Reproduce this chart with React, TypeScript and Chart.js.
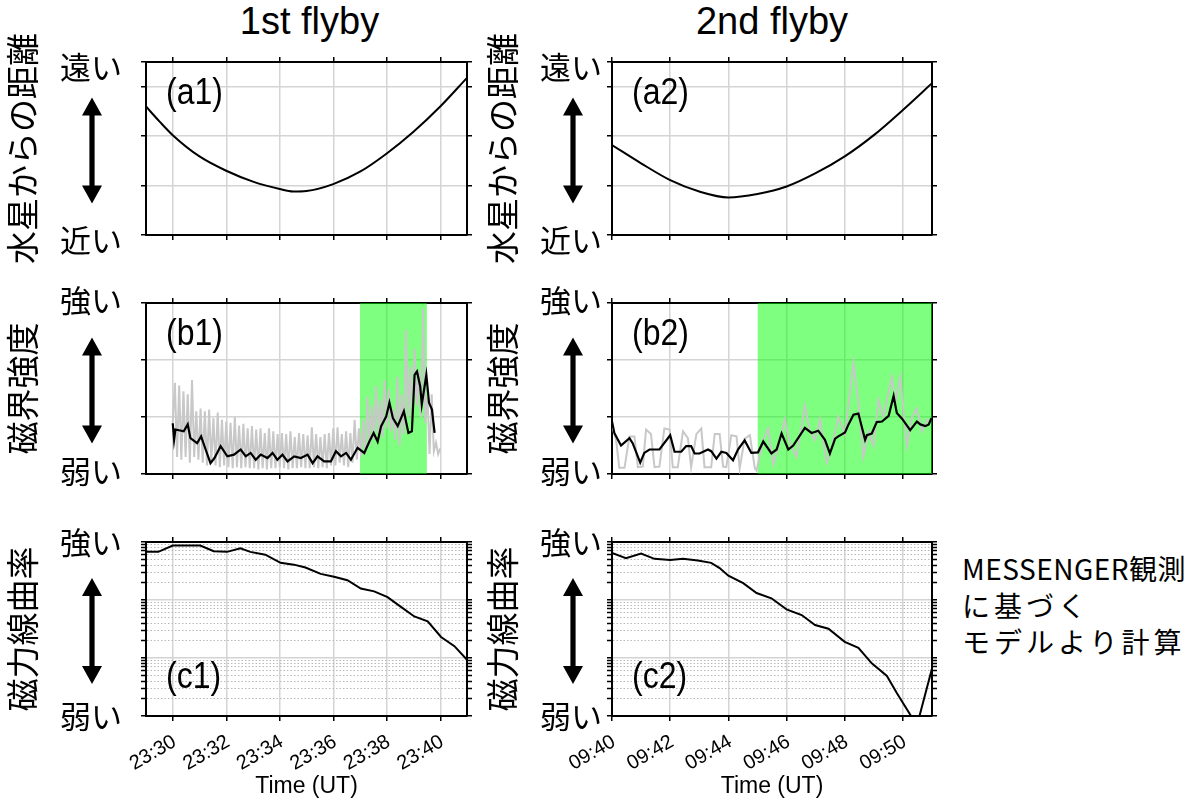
import React, { useEffect, useRef } from 'react';
import { Chart, registerables } from 'chart.js';

Chart.register(...registerables);

// ---------------- data ----------------
const flybyTitles = ['1st flyby', '2nd flyby'];
const flybyHours = ['23', '09'];
const xRange1 = [29, 41];
const xRange2 = [40, 51];
const xTicks1 = [30, 32, 34, 36, 38, 40];
const xTicks2 = [40, 42, 44, 46, 48, 50];
const xAxisTitle = 'Time (UT)';

const yTitles = ['水星からの距離', '磁界強度', '磁力線曲率'];
const distanceEndLabels = ['近い', '遠い'];
const strengthEndLabels = ['弱い', '強い'];
const curvatureEndLabels = ['弱い', '強い'];
const distanceTicks = [0, 1, 2, 3, 3.5];
const strengthTicks = [0, 1, 2, 3];
const curvatureTicks = [
  1, 2, 3, 4, 5, 6, 7, 8, 9,
  10, 20, 30, 40, 50, 60, 70, 80, 90,
  100, 200, 300, 400, 500, 600, 700, 800, 900, 1000,
];
const panelLabels = [
  ['(a1)', '(b1)', '(c1)'],
  ['(a2)', '(b2)', '(c2)'],
];
const noteLines = ['MESSENGER観測', 'に基づく', 'モデルより計算'];

// (a) distance from Mercury
const a1Minutes = [29, 29.5, 30, 31, 32, 33, 34, 34.5, 35, 36, 37, 38, 39, 40, 41];
const a1Distance = [2.6, 2.3, 2.02, 1.59, 1.3, 1.08, 0.93, 0.88, 0.89, 1.03, 1.28, 1.65, 2.09, 2.6, 3.18];
const a2Minutes = [40, 41, 42, 43, 44, 45, 46, 47, 48, 49, 50, 51];
const a2Distance = [1.82, 1.45, 1.11, 0.88, 0.76, 0.83, 0.98, 1.25, 1.59, 2.02, 2.53, 3.07];

// (b) magnetic field strength
const b1BlackMinutes = [
  30.0, 30.05, 30.1, 30.41, 30.56, 30.66, 30.91, 31.06, 31.23, 31.41, 31.56, 31.79,
  32.04, 32.29, 32.54, 32.73, 32.91, 33.1, 33.29, 33.54, 33.73, 33.91, 34.1, 34.29,
  34.54, 34.79, 35.04, 35.23, 35.41, 35.66, 35.91, 36.1, 36.29, 36.48, 36.66, 36.91,
  37.16, 37.35, 37.51, 37.66, 37.79, 37.98, 38.1, 38.23, 38.41, 38.64, 38.81, 38.94,
  39.04, 39.13, 39.25, 39.31, 39.48, 39.58, 39.69, 39.74, 39.79,
];
const b1BlackValues = [
  0.89, 0.6, 0.78, 0.75, 0.87, 0.63, 0.54, 0.66, 0.43, 0.19, 0.28, 0.49,
  0.31, 0.34, 0.43, 0.31, 0.37, 0.25, 0.34, 0.28, 0.37, 0.25, 0.34, 0.22,
  0.31, 0.28, 0.34, 0.19, 0.31, 0.22, 0.22, 0.4, 0.31, 0.37, 0.25, 0.46,
  0.37, 0.57, 0.72, 0.57, 0.84, 1.01, 1.25, 0.98, 0.84, 1.1, 0.72, 0.75,
  1.74, 1.8, 1.54, 1.22, 1.74, 1.25, 1.13, 0.92, 0.72,
];
const b1GrayStart = 30.0;
const b1GrayStep = 0.08;
const b1GrayValues = [
  0.9, 1.6, 0.3, 1.55, 0.25, 1.45, 0.3, 1.4, 0.2, 1.65, 0.3, 1.1, 0.25,
  1.15, 0.2, 1.1, 0.15, 1.13, 0.2, 0.98, 0.15, 1.08, 0.12, 0.95, 0.15, 0.92,
  0.12, 0.9, 0.1, 1.0, 0.12, 0.85, 0.1, 0.88, 0.12, 0.8, 0.1, 0.84,
  0.1, 0.78, 0.08, 0.8, 0.1, 0.72, 0.08, 0.8, 0.1, 0.75, 0.1, 0.7, 0.12,
  0.72, 0.1, 0.7, 0.08, 0.75, 0.1, 0.65, 0.1, 0.72, 0.12, 0.7, 0.1,
  0.68, 0.1, 0.82, 0.12, 0.7, 0.1, 0.65, 0.12, 0.7, 0.1, 0.72, 0.15, 0.8,
  0.15, 0.82, 0.2, 0.7, 0.15, 0.75, 0.12, 0.72, 0.2, 0.95, 0.25, 0.8,
  0.3, 0.95, 0.35, 1.36, 0.5, 1.2, 0.6, 1.55, 0.7, 1.3, 0.65, 1.65, 0.8,
  1.48, 0.75, 1.13, 0.6, 1.71, 0.5, 1.4, 0.7, 2.53, 1.0, 1.89, 0.9,
  2.2, 1.2, 1.8, 1.0, 2.9, 0.9, 1.36, 0.35, 1.4, 0.4, 0.55, 0.35, 0.45,
];
const b1GreenSpan = [37.0, 39.5];

const b2BlackMinutes = [
  40.0, 40.08, 40.31, 40.6, 40.71, 40.97, 41.11, 41.29, 41.63, 42.0, 42.15, 42.38,
  42.55, 42.72, 42.84, 43.01, 43.3, 43.41, 43.59, 43.76, 43.93, 44.16, 44.33, 44.56,
  44.79, 45.02, 45.2, 45.48, 45.66, 45.83, 46.06, 46.23, 46.63, 46.86, 47.09, 47.32,
  47.49, 47.67, 47.78, 48.01, 48.13, 48.3, 48.47, 48.7, 48.76, 48.93, 49.1, 49.28,
  49.51, 49.68, 49.79, 49.97, 50.25, 50.48, 50.6, 50.77, 50.89, 50.98,
];
const b2BlackValues = [
  0.92, 0.72, 0.5, 0.63, 0.54, 0.2, 0.37, 0.43, 0.43, 0.68, 0.39, 0.39,
  0.49, 0.49, 0.36, 0.36, 0.43, 0.4, 0.27, 0.39, 0.37, 0.24, 0.43, 0.59,
  0.37, 0.38, 0.57, 0.36, 0.43, 0.71, 0.43, 0.5, 0.81, 0.72, 0.76, 0.6,
  0.36, 0.62, 0.66, 0.73, 0.87, 1.04, 1.06, 0.6, 0.68, 0.71, 0.91, 0.92,
  1.02, 1.37, 1.07, 0.97, 0.77, 0.92, 0.87, 0.84, 0.87, 0.98,
];
const b2GrayMinutes = [
  40.0, 40.14, 40.25, 40.43, 40.6, 40.77, 40.89, 41.06, 41.17, 41.34, 41.46, 41.63,
  41.8, 41.98, 42.09, 42.26, 42.44, 42.61, 42.72, 42.9, 43.07, 43.18, 43.41, 43.53,
  43.7, 43.82, 43.93, 44.1, 44.28, 44.39, 44.56, 44.74, 44.91, 44.97, 45.2, 45.37,
  45.54, 45.71, 45.94, 46.11, 46.34, 46.63, 46.8, 46.98, 47.15, 47.38, 47.55, 47.78,
  48.01, 48.3, 48.47, 48.64, 48.82, 48.99, 49.16, 49.33, 49.62, 49.74, 49.91, 50.14,
  50.31, 50.48, 50.66, 50.83, 50.94,
];
const b2GrayValues = [
  0.84, 0.6, 0.11, 0.11, 0.66, 0.66, 0.12, 0.13, 0.78, 0.7, 0.12, 0.13,
  0.8, 0.78, 0.12, 0.12, 0.75, 0.63, 0.12, 0.7, 0.8, 0.12, 0.12, 0.7,
  0.7, 0.13, 0.12, 0.68, 0.66, 0.1, 0.62, 0.68, 0.1, 0.06, 0.6, 0.8,
  0.17, 0.45, 0.96, 0.55, 0.3, 1.2, 0.75, 0.6, 0.96, 0.2, 0.45, 1.0,
  0.7, 1.95, 1.25, 0.3, 0.75, 0.5, 1.3, 1.0, 1.7, 1.25, 1.7, 0.5,
  1.0, 1.15, 0.75, 0.95, 0.9,
];
const b2GreenSpan = [45.0, 51.0];

// (c) field-line curvature (log scale)
const c1Minutes = [
  29, 29.46, 30, 31.03, 31.53, 32.03, 32.53, 32.9, 33.46, 34.03, 34.53, 34.96,
  35.53, 36.03, 36.53, 37.03, 37.53, 38.03, 38.53, 39.03, 39.53, 40.03, 40.53, 41,
];
const c1Curvature = [
  676, 676, 871, 871, 692, 676, 776, 676, 603, 437, 407, 363,
  282, 251, 219, 158, 141, 112, 76, 52, 43, 23, 16, 9.3,
];
const c2Minutes = [
  40, 40.48, 41, 41.46, 42, 42.44, 42.95, 43.41, 43.7, 44, 44.51, 44.97,
  45.48, 46, 46.52, 46.98, 47.44, 48, 48.47, 48.93, 49.45, 49.79, 50.28, 50.57, 51,
];
const c2Curvature = [
  646, 525, 631, 513, 490, 513, 479, 437, 355, 263, 195, 132,
  107, 69, 55, 37, 32, 19, 15, 8.1, 4.9, 2.5, 1, 1, 6.6,
];

// ---------------- layout / style ----------------
const CANVAS_W = 480;
const CANVAS_H = 800;
const SIDE = 8;
const LATIN = '"Liberation Sans", Arial, Helvetica, sans-serif';
const CJK = '"Noto Sans CJK JP", "Noto Sans", sans-serif';
const GRID = 'rgb(212,212,212)';
const MINOR_GRID = 'rgb(185,185,185)';
const GREEN = 'rgba(0,255,0,0.5)';
const GRAY_LINE = 'rgb(200,200,200)';

const COLS = [
  { canvasLeft: 0, plotLeft: 146, plotRight: 467, tickPad: 19, arrowGap: 54 },
  { canvasLeft: 480, plotLeft: 612, plotRight: 932, tickPad: 5, arrowGap: 39 },
];
const ROWS = [
  { top: 62, bottom: 235, labelAt: 'top', labelOffset: 42, yLabelShift: 5 },
  { top: 303, bottom: 474, labelAt: 'top', labelOffset: 42, yLabelShift: -3 },
  { top: 542, bottom: 716, labelAt: 'bottom', labelOffset: 28, yLabelShift: 0 },
];

const pts = (xs: number[], ys: number[]) => xs.map((x, i) => ({ x, y: ys[i] }));
const isDecade = (v: number) => Math.abs(Math.log10(v) - Math.round(Math.log10(v))) < 1e-9;

function lineDs(data: any[], color: string, width: number, order: number, extra: any = {}) {
  return {
    data,
    borderColor: color,
    borderWidth: width,
    pointRadius: 0,
    fill: false,
    tension: 0,
    order,
    ...extra,
  };
}

function bandDs(span: number[], top: number) {
  return {
    data: [
      { x: span[0], y: top },
      { x: span[1], y: top },
    ],
    borderWidth: 0,
    borderColor: 'rgba(0,0,0,0)',
    backgroundColor: GREEN,
    fill: 'start',
    pointRadius: 0,
    order: 3,
  };
}

function buildDatasets(col: number, row: number): any[] {
  const smooth = { tension: 0.4, cubicInterpolationMode: 'monotone' };
  if (row === 0) {
    return col === 0
      ? [lineDs(pts(a1Minutes, a1Distance), '#000', 2, 1, smooth)]
      : [lineDs(pts(a2Minutes, a2Distance), '#000', 2, 1, smooth)];
  }
  if (row === 1) {
    if (col === 0) {
      const gray = b1GrayValues.map((v, i) => ({ x: b1GrayStart + i * b1GrayStep, y: v }));
      return [
        lineDs(pts(b1BlackMinutes, b1BlackValues), '#000', 2.2, 1),
        lineDs(gray, GRAY_LINE, 2, 2),
        bandDs(b1GreenSpan, strengthTicks[strengthTicks.length - 1]),
      ];
    }
    return [
      lineDs(pts(b2BlackMinutes, b2BlackValues), '#000', 2.2, 1),
      lineDs(pts(b2GrayMinutes, b2GrayValues), GRAY_LINE, 2, 2),
      bandDs(b2GreenSpan, strengthTicks[strengthTicks.length - 1]),
    ];
  }
  return col === 0
    ? [lineDs(pts(c1Minutes, c1Curvature), '#000', 2, 1)]
    : [lineDs(pts(c2Minutes, c2Curvature), '#000', 2, 1)];
}

const decorPlugin = {
  id: 'decor',
  afterDraw(chart: any, _args: any, opts: any) {
    const { ctx, chartArea: ca } = chart;
    ctx.save();
    // double-headed arrow
    const cx = ca.left - opts.arrowGap;
    const cy = (ca.top + ca.bottom) / 2 + 2;
    const half = 53;
    const hw = 10;
    const hl = 18;
    const sw = 2.6;
    ctx.fillStyle = '#000';
    ctx.beginPath();
    ctx.moveTo(cx, cy - half);
    ctx.lineTo(cx + hw, cy - half + hl);
    ctx.lineTo(cx + sw, cy - half + hl);
    ctx.lineTo(cx + sw, cy + half - hl);
    ctx.lineTo(cx + hw, cy + half - hl);
    ctx.lineTo(cx, cy + half);
    ctx.lineTo(cx - hw, cy + half - hl);
    ctx.lineTo(cx - sw, cy + half - hl);
    ctx.lineTo(cx - sw, cy - half + hl);
    ctx.lineTo(cx - hw, cy - half + hl);
    ctx.closePath();
    ctx.fill();
    // panel label
    const by = opts.labelAt === 'top' ? ca.top + opts.labelOffset : ca.bottom - opts.labelOffset;
    ctx.translate(ca.left + 20, by);
    ctx.scale(1, 1.15);
    ctx.font = `32px ${LATIN}`;
    ctx.textBaseline = 'alphabetic';
    ctx.textAlign = 'left';
    ctx.fillText(opts.label, 0, 0);
    ctx.restore();
  },
};

function makeConfig(col: number, row: number): any {
  const C = COLS[col];
  const R = ROWS[row];
  const hour = flybyHours[col];
  const [xMin, xMax] = col === 0 ? xRange1 : xRange2;
  const xTicks = col === 0 ? xTicks1 : xTicks2;
  const isLog = row === 2;
  const yTicks = [distanceTicks, strengthTicks, curvatureTicks][row];
  const ends = [distanceEndLabels, strengthEndLabels, curvatureEndLabels][row];
  const yMin = yTicks[0];
  const yMax = yTicks[yTicks.length - 1];
  const showX = row === 2;

  const yLeftW = C.plotLeft - C.canvasLeft;
  const bottomH = showX ? CANVAS_H - R.bottom : SIDE;
  const padding = {
    left: 0,
    top: R.top - SIDE,
    right: C.canvasLeft + CANVAS_W - C.plotRight - SIDE,
    bottom: CANVAS_H - R.bottom - bottomH,
  };

  const setXTicks = (axis: any) => {
    axis.ticks = xTicks.map((v) => ({ value: v }));
  };
  const setYTicks = (axis: any) => {
    axis.ticks = yTicks.map((v) => ({ value: v, major: isLog ? isDecade(v) : false }));
  };

  const gridX = {
    color: GRID,
    lineWidth: 1.5,
    tickColor: '#000',
    tickLength: 5,
    tickWidth: 1.5,
  };
  const gridY = {
    color: (c: any) => (isLog && c.tick && !isDecade(c.tick.value) ? MINOR_GRID : GRID),
    lineWidth: (c: any) => (isLog && c.tick && !isDecade(c.tick.value) ? 1 : 1.5),
    tickColor: '#000',
    tickLength: 5,
    tickWidth: 1.5,
  };
  const borderY = {
    display: true,
    color: '#000',
    width: 2,
    dash: (c: any) => (isLog && c.tick && !isDecade(c.tick.value) ? [1.5, 2] : []),
  };
  const borderX = { display: true, color: '#000', width: 2 };

  return {
    type: 'line',
    data: { datasets: buildDatasets(col, row) },
    plugins: [decorPlugin],
    options: {
      animation: false,
      responsive: false,
      devicePixelRatio: 1,
      events: [],
      layout: { padding },
      plugins: {
        legend: { display: false },
        tooltip: { enabled: false },
        decor: {
          label: panelLabels[col][row],
          arrowGap: C.arrowGap,
          labelAt: R.labelAt,
          labelOffset: R.labelOffset,
        },
      },
      scales: {
        x: {
          type: 'linear',
          position: 'bottom',
          min: xMin,
          max: xMax,
          afterBuildTicks: setXTicks,
          afterFit: (s: any) => {
            s.height = bottomH;
          },
          grid: gridX,
          border: borderX,
          ticks: {
            display: showX,
            autoSkip: false,
            minRotation: 30,
            maxRotation: 30,
            padding: 9,
            labelOffset: 2,
            color: '#000',
            font: { family: LATIN, size: 20 },
            callback: (v: any) => `${hour}:${v}`,
          },
          title: {
            display: showX,
            text: xAxisTitle,
            color: '#000',
            font: { family: LATIN, size: 23 },
            padding: { top: 0, bottom: 0 },
          },
        },
        xTop: {
          type: 'linear',
          position: 'top',
          min: xMin,
          max: xMax,
          afterBuildTicks: setXTicks,
          afterFit: (s: any) => {
            s.height = SIDE;
          },
          grid: { ...gridX, drawOnChartArea: false },
          border: borderX,
          ticks: { display: false, autoSkip: false },
        },
        y: {
          type: isLog ? 'logarithmic' : 'linear',
          position: 'left',
          min: yMin,
          max: yMax,
          afterBuildTicks: setYTicks,
          afterFit: (s: any) => {
            s.width = yLeftW;
          },
          grid: gridY,
          border: borderY,
          ticks: {
            autoSkip: false,
            padding: C.tickPad,
            labelOffset: R.yLabelShift,
            color: '#000',
            font: { family: CJK, size: 31 },
            callback: (v: any) => (v === yMax ? ends[1] : v === yMin ? ends[0] : ''),
          },
          title: {
            display: true,
            text: yTitles[row],
            color: '#000',
            font: { family: CJK, size: 33 },
            padding: { top: 3, bottom: 3 },
          },
        },
        yRight: {
          type: isLog ? 'logarithmic' : 'linear',
          position: 'right',
          min: yMin,
          max: yMax,
          afterBuildTicks: setYTicks,
          afterFit: (s: any) => {
            s.width = SIDE;
          },
          grid: { ...gridY, drawOnChartArea: false },
          border: { display: true, color: '#000', width: 2 },
          ticks: { display: false, autoSkip: false },
        },
      },
    },
  };
}

function Panel({ col, row }: { col: number; row: number }) {
  const ref = useRef<HTMLCanvasElement>(null);
  useEffect(() => {
    if (!ref.current) return;
    const chart = new Chart(ref.current, makeConfig(col, row));
    return () => chart.destroy();
  }, [col, row]);
  return (
    <canvas
      ref={ref}
      width={CANVAS_W}
      height={CANVAS_H}
      style={{
        position: 'absolute',
        left: COLS[col].canvasLeft,
        top: 0,
        width: CANVAS_W,
        height: CANVAS_H,
      }}
    />
  );
}

export default function App() {
  return (
    <div
      style={{
        position: 'absolute',
        left: 0,
        top: 0,
        width: 1200,
        height: 800,
        background: '#fff',
        overflow: 'hidden',
      }}
    >
      {flybyTitles.map((t, i) => {
        const center = (COLS[i].plotLeft + COLS[i].plotRight) / 2 + (i === 0 ? 3 : 0);
        return (
          <div
            key={t}
            style={{
              position: 'absolute',
              left: center - 150,
              top: 2,
              width: 300,
              textAlign: 'center',
              fontFamily: LATIN,
              fontSize: 38,
              lineHeight: '38px',
              color: '#000',
            }}
          >
            {t}
          </div>
        );
      })}
      {[0, 1].map((col) => [0, 1, 2].map((row) => <Panel key={`${col}-${row}`} col={col} row={row} />))}
      <div
        style={{
          position: 'absolute',
          left: 962,
          top: 550,
          fontFamily: CJK,
          fontSize: 28,
          lineHeight: '36.5px',
          color: '#000',
          whiteSpace: 'nowrap',
        }}
      >
        {noteLines.map((l, i) => (
          <div key={l} style={{ letterSpacing: i === 0 ? '0.5px' : '4px' }}>
            {l}
          </div>
        ))}
      </div>
    </div>
  );
}
